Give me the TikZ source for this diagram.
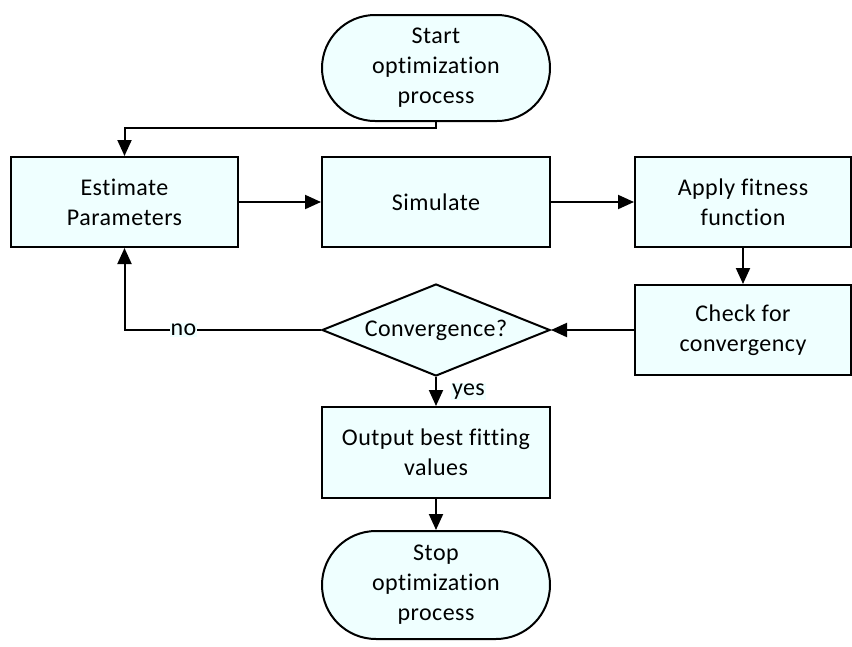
\documentclass[tikz,border=0pt]{standalone}
\usepackage{fontspec}
\setmainfont{Carlito}[Ligatures=CommonOff, LetterSpace=2]
\usetikzlibrary{shapes.misc,shapes.geometric,arrows.meta}
\definecolor{boxfill}{HTML}{EFFFFF}
\tikzset{
  base/.style={draw=black, line width=2pt, fill=boxfill, align=center, inner sep=0pt,
    font=\fontsize{24}{30}\selectfont},
  procbox/.style={base, rectangle, minimum height=90pt},
  termbox/.style={base, rounded rectangle, minimum width=228pt},
  decbox/.style={base, diamond, minimum width=228pt, minimum height=92pt, aspect=2.48},
  conn/.style={line width=2pt, -{Triangle[length=16pt,width=14pt]}},
  lbl/.style={fill=boxfill, inner sep=1pt, font=\fontsize{24}{26}\selectfont}
}
\begin{document}
\begin{tikzpicture}[x=1pt,y=-1pt]
\useasboundingbox (0,0) rectangle (852,646);
\node[termbox, minimum height=106pt] (start) at (436,68) {Start\\optimization\\process};
\node[procbox, minimum width=227pt] (est) at (124.5,202) {Estimate\\Parameters};
\node[procbox, minimum width=228pt] (sim) at (436,202) {Simulate};
\node[procbox, minimum width=216pt] (fit) at (743,202) {Apply fitness\\function};
\node[procbox, minimum width=216pt] (chk) at (743,330) {Check for\\convergency};
\node[decbox] (conv) at (436,330) {Convergence?};
\node[procbox, minimum width=228pt, minimum height=91pt] (out) at (436,452.5) {Output best fitting\\values};
\node[termbox, minimum height=108pt] (stop) at (436,585) {Stop\\optimization\\process};
\draw[conn] (start.south) -- ++(0,6) -| (est.north);
\draw[conn] (est.east) -- (sim.west);
\draw[conn] (sim.east) -- (fit.west);
\draw[conn] (fit.south) -- (chk.north);
\draw[conn] (chk.west) -- (conv.east);
\draw[conn] (conv.west) -| node[lbl, pos=0.35] {no} (est.south);
\draw[conn] (conv.south) -- node[lbl, right=14pt, pos=0.5] {yes} (out.north);
\draw[conn] (out.south) -- (stop.north);
\end{tikzpicture}
\end{document}
